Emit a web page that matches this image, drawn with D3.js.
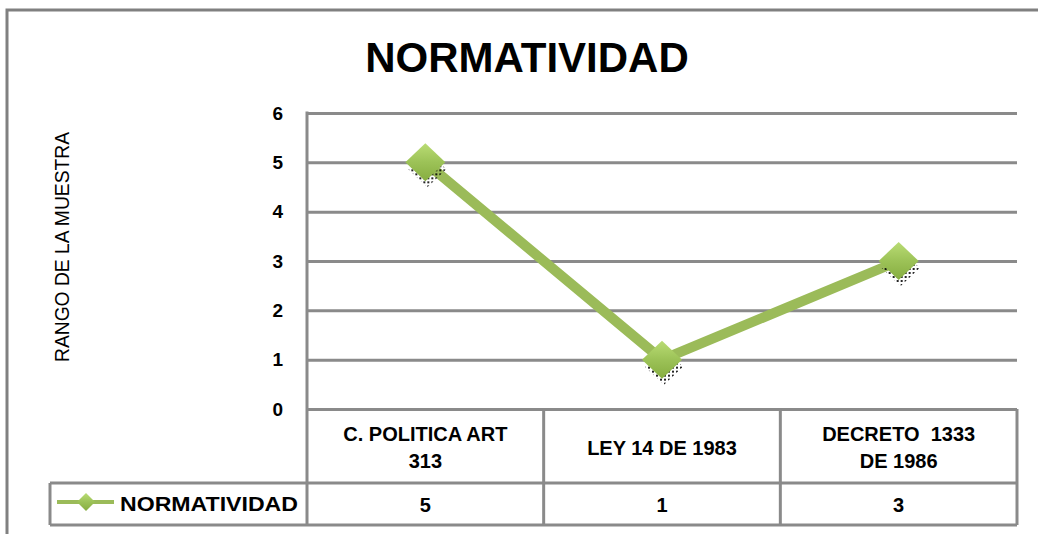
<!DOCTYPE html>
<html>
<head>
<meta charset="utf-8">
<script src="https://cdn.jsdelivr.net/npm/d3@7"></script>
<style>
  body { margin: 0; background: #ffffff; }
  svg { display: block; }
  text { font-family: 'Liberation Sans', Arial, sans-serif; fill: #000; white-space: pre; }
</style>
</head>
<body>
<svg></svg>
<script>
// Chart data
let categories = ['C. POLITICA ART 313', 'LEY 14 DE 1983', 'DECRETO  1333 DE 1986'];
let categoryLines = [['C. POLITICA ART', '313'], ['LEY 14 DE 1983'], ['DECRETO  1333', 'DE 1986']];
let values = [5, 1, 3];
let yTicks = [0, 1, 2, 3, 4, 5, 6];
let seriesName = 'NORMATIVIDAD';
let chartTitle = 'NORMATIVIDAD';
let yTitle = 'RANGO DE LA MUESTRA';

// SVG dimensions
let width = 1038, height = 534;
let plotLeft = 307, plotRight = 1017, plotTop = 113, plotBottom = 409;
let headerBottom = 483, tableBottom = 525, legendLeft = 50;
let green = '#9bbb59', grid = '#8a8a8a';

let svg = d3.select('svg').attr('width', width).attr('height', height);

// Scales
let xScale = d3.scaleBand()
    .domain(categories)
    .range([plotLeft, plotRight]);

let yScale = d3.scaleLinear()
    .domain([0, 6])
    .range([plotBottom, plotTop]);

// Diamond marker shape
function diamondPath(hw, hh) {
    return `M0,${-hh} L${hw},0 L0,${hh} L${-hw},0 Z`;
}

// Defs: marker gradient and shadow dots
let defs = svg.append('defs');
let grad = defs.append('linearGradient')
    .attr('id', 'mk').attr('x1', 0).attr('y1', 0).attr('x2', 0).attr('y2', 1);
grad.append('stop').attr('offset', '0%').attr('stop-color', '#b9dc74');
grad.append('stop').attr('offset', '50%').attr('stop-color', '#9cc257');
grad.append('stop').attr('offset', '100%').attr('stop-color', '#86ad40');

let dots = defs.append('pattern')
    .attr('id', 'dots').attr('width', 4).attr('height', 4)
    .attr('patternUnits', 'userSpaceOnUse');
dots.append('rect').attr('width', 2).attr('height', 2).attr('fill', '#000');

// Outer chart border
svg.append('path')
    .attr('d', `M7,${height + 5} L7,10 L${width + 5},10`)
    .attr('fill', 'none')
    .attr('stroke', '#808080')
    .attr('stroke-width', 3);

// Title
svg.append('text')
    .attr('x', 527).attr('y', 72)
    .attr('text-anchor', 'middle')
    .style('font-size', '42px')
    .style('font-weight', 'bold')
    .text(chartTitle);

// Y axis title
svg.append('text')
    .attr('transform', `translate(69, 247) rotate(-90)`)
    .attr('text-anchor', 'middle')
    .attr('textLength', 230)
    .attr('lengthAdjust', 'spacingAndGlyphs')
    .style('font-size', '20px')
    .text(yTitle);

// Gridlines with y axis
let yAxis = d3.axisLeft(yScale)
    .tickValues(yTicks)
    .tickSize(-(plotRight - plotLeft))
    .tickPadding(24)
    .tickFormat(d3.format('d'));

let yg = svg.append('g')
    .attr('transform', `translate(${plotLeft}, 0)`)
    .call(yAxis);
yg.select('.domain').remove();
yg.selectAll('.tick line').attr('stroke', grid).attr('stroke-width', 3);
yg.selectAll('.tick text')
    .style('font-size', '19px')
    .style('font-weight', 'bold')
    .style('font-family', "'Liberation Sans', Arial, sans-serif")
    .attr('fill', '#000');

// Data table lines
let tableLines = svg.append('g')
    .attr('stroke', grid).attr('stroke-width', 3).attr('fill', 'none');
tableLines.append('line')
    .attr('x1', legendLeft).attr('x2', plotRight)
    .attr('y1', headerBottom).attr('y2', headerBottom);
tableLines.append('line')
    .attr('x1', legendLeft).attr('x2', plotRight)
    .attr('y1', tableBottom).attr('y2', tableBottom);
tableLines.append('line')
    .attr('x1', legendLeft).attr('x2', legendLeft)
    .attr('y1', headerBottom).attr('y2', tableBottom);
tableLines.append('line')
    .attr('x1', plotLeft).attr('x2', plotLeft)
    .attr('y1', plotTop - 1.5).attr('y2', tableBottom);
tableLines.selectAll('.sep')
    .data(categories)
    .enter()
    .append('line')
    .attr('x1', (d) => xScale(d) + xScale.bandwidth())
    .attr('x2', (d) => xScale(d) + xScale.bandwidth())
    .attr('y1', plotBottom).attr('y2', tableBottom);

// Category labels in the table header
let headers = svg.append('g').selectAll('text')
    .data(categories)
    .enter()
    .append('text')
    .attr('text-anchor', 'middle')
    .style('font-size', '20px')
    .style('font-weight', 'bold');

headers.each(function (d, i) {
    let lines = categoryLines[i];
    let cx = xScale(d) + xScale.bandwidth() / 2;
    let y0 = lines.length === 1 ? 455 : 441;
    d3.select(this).selectAll('tspan')
        .data(lines)
        .enter()
        .append('tspan')
        .attr('x', cx)
        .attr('y', (l, j) => y0 + j * 27)
        .text((l) => l);
});

// Values row
svg.append('g').selectAll('text')
    .data(values)
    .enter()
    .append('text')
    .attr('x', (d, i) => xScale(categories[i]) + xScale.bandwidth() / 2)
    .attr('y', 512)
    .attr('text-anchor', 'middle')
    .style('font-size', '20px')
    .style('font-weight', 'bold')
    .text((d) => d);

// Legend
svg.append('line')
    .attr('x1', 57).attr('x2', 114)
    .attr('y1', 502).attr('y2', 502)
    .attr('stroke', green).attr('stroke-width', 4);
svg.append('path')
    .attr('d', diamondPath(9, 9))
    .attr('transform', 'translate(86, 502)')
    .attr('fill', 'url(#mk)');
svg.append('text')
    .attr('x', 120).attr('y', 511)
    .attr('textLength', 178)
    .attr('lengthAdjust', 'spacingAndGlyphs')
    .style('font-size', '21px')
    .style('font-weight', 'bold')
    .text(seriesName);

// Series line
let points = values.map((v, i) => [xScale(categories[i]) + xScale.bandwidth() / 2, yScale(v)]);
svg.append('path')
    .datum(points)
    .attr('d', d3.line())
    .attr('fill', 'none')
    .attr('stroke', green)
    .attr('stroke-width', 10);

// Marker shadows
svg.append('g').selectAll('path')
    .data(points)
    .enter()
    .append('path')
    .attr('d', diamondPath(19, 18))
    .attr('transform', (d) => `translate(${d[0] + 2}, ${d[1] + 7})`)
    .attr('fill', 'url(#dots)')
    .attr('opacity', 0.85);

// Markers
svg.append('g').selectAll('path')
    .data(points)
    .enter()
    .append('path')
    .attr('d', diamondPath(20, 19))
    .attr('transform', (d) => `translate(${d[0]}, ${d[1]})`)
    .attr('fill', 'url(#mk)');
</script>
</body>
</html>
